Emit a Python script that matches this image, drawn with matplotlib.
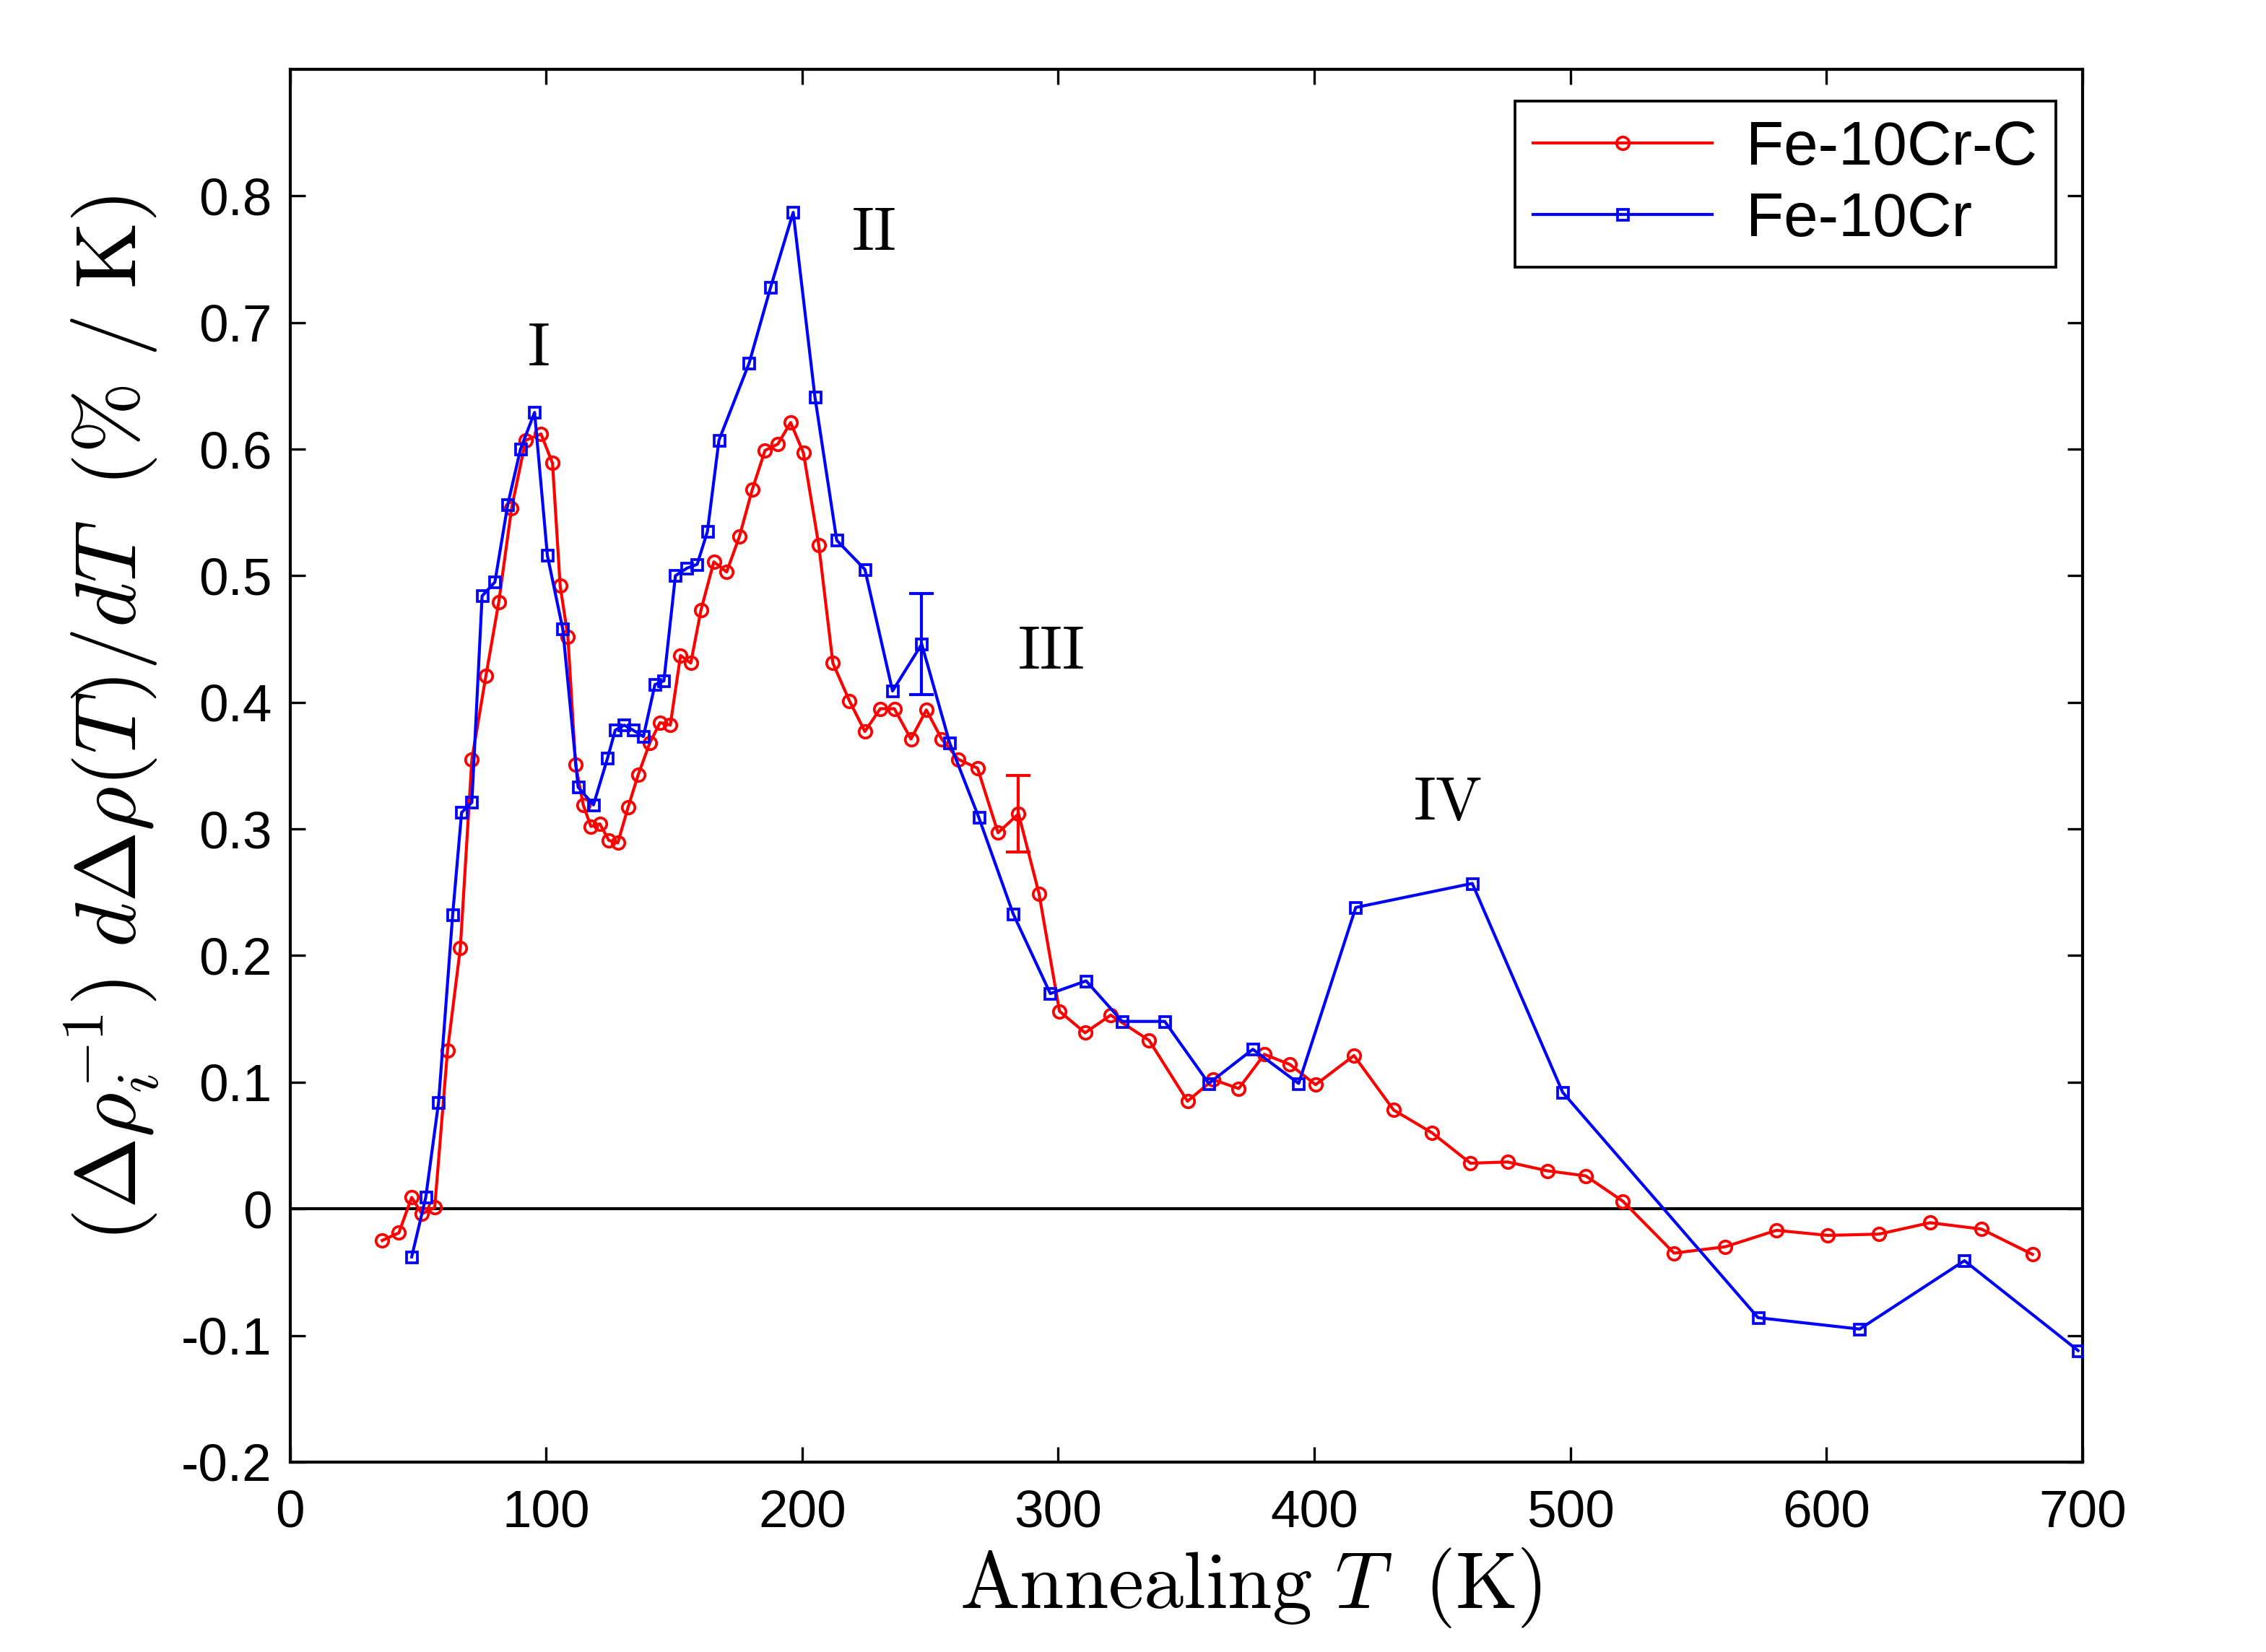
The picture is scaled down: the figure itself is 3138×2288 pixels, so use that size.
import matplotlib
matplotlib.use('Agg')
import matplotlib.pyplot as plt
from matplotlib.ticker import FuncFormatter

plt.rcParams['mathtext.fontset'] = 'cm'
plt.rcParams['axes.unicode_minus'] = False
plt.rcParams['font.family'] = ['Liberation Sans', 'DejaVu Sans']

# --- DATA ---
t_fecrc = [36, 42.5, 47.5, 51.5, 56.5, 61.5, 66.5, 71, 76.5, 81.5, 86.5, 92, 98, 102.5,
           105.5, 108.5, 111.5, 114.5, 117.5, 121, 124.5, 128, 132, 136, 140.5, 144.5,
           148.5, 152.5, 156.5, 160.5, 165.5, 170.5, 175.5, 180.5, 185.5, 190.5, 195.5,
           200.5, 206.5, 212, 218.5, 224.5, 230.5, 236, 242.5, 248.5, 254.5, 261, 268.5,
           276.5, 284.5, 292.5, 300.5, 310.5, 320.5, 335.5, 350.5, 360.5, 370.5, 380.5,
           390.5, 400.5, 415.5, 431, 446, 461, 475.5, 491, 506, 520.5, 540.5, 560.5,
           580.5, 600.5, 620.5, 640.5, 660.5, 680.5]
v_fecrc = [-0.025, -0.019, 0.009, -0.004, 0.001, 0.125, 0.206, 0.355, 0.421, 0.479, 0.553,
           0.607, 0.612, 0.589, 0.492, 0.452, 0.351, 0.319, 0.302, 0.304, 0.291, 0.289,
           0.317, 0.343, 0.368, 0.384, 0.382, 0.437, 0.431, 0.473, 0.511, 0.503, 0.531,
           0.568, 0.599, 0.604, 0.621, 0.597, 0.524, 0.431, 0.401, 0.377, 0.395, 0.395,
           0.371, 0.394, 0.371, 0.355, 0.348, 0.297, 0.312, 0.249, 0.156, 0.139, 0.153,
           0.133, 0.085, 0.102, 0.095, 0.122, 0.114, 0.098, 0.121, 0.078, 0.060, 0.036,
           0.037, 0.030, 0.026, 0.006, -0.035, -0.030, -0.017, -0.021, -0.020, -0.011,
           -0.016, -0.036]

t_fecr = [47.5, 53, 58, 63.5, 67, 71, 75, 80, 85, 90, 95.5, 100.5, 106.5, 112.5, 118.5,
          124, 127, 130.5, 134, 138, 142.5, 146, 150.5, 155, 159, 163, 167.5, 179.3,
          187.7, 196.5, 205, 213.5, 224.5, 235.3, 246.7, 257.6, 269, 282.4, 296.9, 310.9,
          325, 341.6, 358.8, 376, 393.9, 416.2, 461.7, 497, 573.3, 613, 653.9, 698.3]
v_fecr = [-0.038, 0.009, 0.084, 0.232, 0.313, 0.321, 0.484, 0.495, 0.556, 0.600, 0.629,
          0.516, 0.458, 0.333, 0.319, 0.356, 0.378, 0.382, 0.378, 0.373, 0.414, 0.417,
          0.500, 0.506, 0.509, 0.535, 0.607, 0.668, 0.728, 0.787, 0.641, 0.528, 0.505,
          0.409, 0.446, 0.368, 0.309, 0.233, 0.170, 0.180, 0.148, 0.148, 0.099, 0.126,
          0.099, 0.238, 0.257, 0.092, -0.086, -0.095, -0.041, -0.112]

# single error bars shown on each curve
err_fecrc = (284.5, 0.312, 0.030)
err_fecr = (246.7, 0.446, 0.040)

stage_labels = ['I', 'II', 'III', 'IV']
stage_pos = [(97, 0.679), (228, 0.770), (297, 0.439), (452, 0.320)]

# --- PLOT ---
fig = plt.figure(figsize=(10.46, 7.627), dpi=300)
ax = fig.add_axes([0.128, 0.115, 0.791, 0.843])

ax.axhline(0, color='k', lw=1.0, zorder=1)

ax.plot(t_fecrc, v_fecrc, '-o', color='#ff0000', lw=1.0, ms=4.2, mew=0.9,
        mfc='none', label='Fe-10Cr-C', zorder=3)
ax.plot(t_fecr, v_fecr, '-s', color='#0000ff', lw=1.0, ms=3.6, mew=0.9,
        mfc='none', label='Fe-10Cr', zorder=4)

ax.errorbar([err_fecrc[0]], [err_fecrc[1]], yerr=[err_fecrc[2]], fmt='none',
            ecolor='#ff0000', elinewidth=1.0, capsize=4, capthick=1.0)
ax.errorbar([err_fecr[0]], [err_fecr[1]], yerr=[err_fecr[2]], fmt='none',
            ecolor='#0000ff', elinewidth=1.0, capsize=4, capthick=1.0)

for lab, (tx, ty) in zip(stage_labels, stage_pos):
    ax.text(tx, ty, r'$\mathrm{%s}$' % lab, fontsize=20.5, ha='center', va='center')

ax.set_xlim(0, 700)
ax.set_ylim(-0.2, 0.9)
ax.set_xticks(range(0, 701, 100))
ax.set_yticks([-0.2, -0.1, 0, 0.1, 0.2, 0.3, 0.4, 0.5, 0.6, 0.7, 0.8])
ax.yaxis.set_major_formatter(FuncFormatter(lambda v, p: '%g' % round(v, 2)))

ax.tick_params(direction='in', length=5, width=0.8, top=True, right=True,
               labelsize=17.5, pad=6)
ax.tick_params(axis='x', pad=9)
for sp in ax.spines.values():
    sp.set_linewidth(1.0)

ax.set_xlabel(r'$\mathrm{Annealing}\ T\;\ \mathrm{(K)}$', fontsize=26.5)
ax.xaxis.set_label_coords(0.536, -0.06)
ax.set_ylabel(r'$(\Delta\rho_i^{-1})\ d\Delta\rho(T)/dT\;\ (\%\ /\ \mathrm{K})$',
              fontsize=28.5)
ax.yaxis.set_label_coords(-0.072, 0.534)

leg = ax.legend(loc='upper right', bbox_to_anchor=(0.985, 0.977), fontsize=20.5,
                handlelength=2.9, numpoints=1, fancybox=False, framealpha=1,
                borderaxespad=0, borderpad=0.3, labelspacing=0.22, handletextpad=0.55)
leg.get_frame().set_edgecolor('k')
leg.get_frame().set_linewidth(0.9)

fig.savefig('out.png', dpi=300)
